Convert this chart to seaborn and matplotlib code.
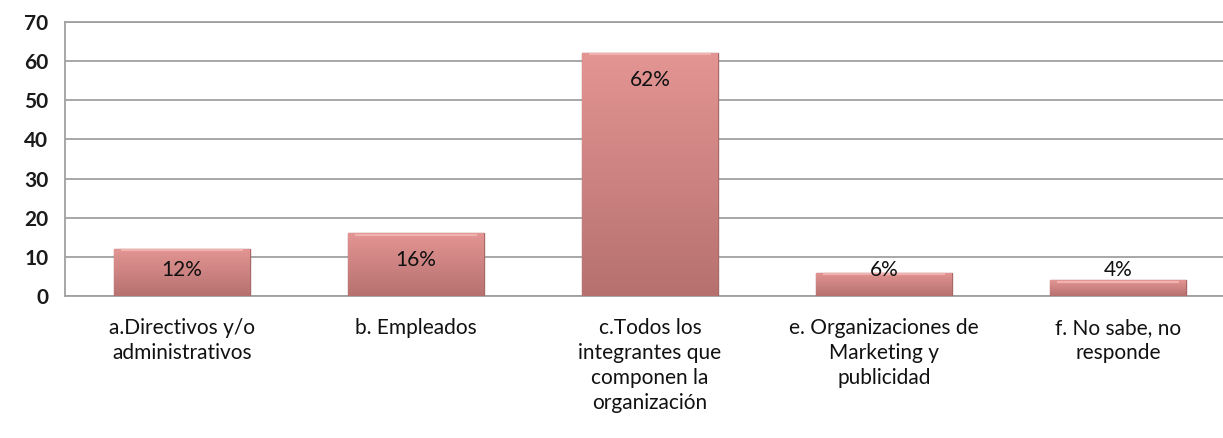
import numpy as np
import pandas as pd
import matplotlib
matplotlib.use("Agg")
import matplotlib.pyplot as plt
import seaborn as sns

# ---- data ----
categorias = [
    "a.Directivos y/o\nadministrativos",
    "b. Empleados",
    "c.Todos los\nintegrantes que\ncomponen la\norganización",
    "e. Organizaciones de\nMarketing y\npublicidad",
    "f. No sabe, no\nresponde",
]
valores = [12, 16, 62, 6, 4]
etiquetas = ["12%", "16%", "62%", "6%", "4%"]
y_ticks = [0, 10, 20, 30, 40, 50, 60, 70]

df = pd.DataFrame({"categoria": categorias, "valor": valores})

sns.set_theme(style="white")
plt.rcParams["font.family"] = ["Lato", "DejaVu Sans"]

W, H = 1223, 438
fig = plt.figure(figsize=(W / 100, H / 100), dpi=100)
left, right, top, bottom = 65, 1223, 22, 296
ax = fig.add_axes([left / W, (H - bottom) / H, (right - left) / W, (bottom - top) / H])

sns.barplot(data=df, x="categoria", y="valor", color="#d08683", width=0.58,
            edgecolor="#a86a68", linewidth=1.0, saturation=1, ax=ax, zorder=3)

# gradient overlay on bars (light top -> darker bottom)
grad = np.linspace(0, 1, 256).reshape(-1, 1)
cmap = matplotlib.colors.LinearSegmentedColormap.from_list("g", ["#e39593", "#b6716f"])
for patch in ax.patches:
    x0, y0 = patch.get_x(), patch.get_y()
    w, h = patch.get_width(), patch.get_height()
    im = ax.imshow(grad, cmap=cmap, aspect="auto", origin="upper",
                   extent=[x0, x0 + w, y0, y0 + h], zorder=3.5, interpolation="bicubic")
    im.set_clip_path(patch)
    # soft highlight along the top
    ax.plot([x0 + 0.03, x0 + w - 0.03], [y0 + h - 0.3, y0 + h - 0.3],
            color="#f0b1af", lw=1.6, zorder=4, solid_capstyle="butt")

# value labels
for i, (v, lab) in enumerate(zip(valores, etiquetas)):
    ax.text(i, max(v - 6.9, 6.6), lab, ha="center", va="center",
            fontsize=15, color="#111111", zorder=5)

ax.set_ylim(0, 70)
ax.set_xlim(-0.5, -0.5 + (right - left) / 234)
ax.set_yticks(y_ticks)
ax.yaxis.grid(True, color="#a0a0a0", linewidth=1.3, zorder=0)
ax.set_axisbelow(True)
ax.set_xlabel("")
ax.set_ylabel("")

ax.spines["right"].set_visible(False)
for s in ["left", "bottom", "top"]:
    ax.spines[s].set_color("#a0a0a0")
    ax.spines[s].set_linewidth(1.3)

ax.tick_params(axis="y", length=0, pad=12, labelsize=15, labelcolor="#1a1a1a")
ax.tick_params(axis="x", length=0, pad=16, labelsize=15, labelcolor="#111111")
for t in ax.get_yticklabels():
    t.set_fontweight("bold")
for t in ax.get_xticklabels():
    t.set_linespacing(1.3)
    t.set_va("top")

fig.savefig("out.png", dpi=100, facecolor="white")
